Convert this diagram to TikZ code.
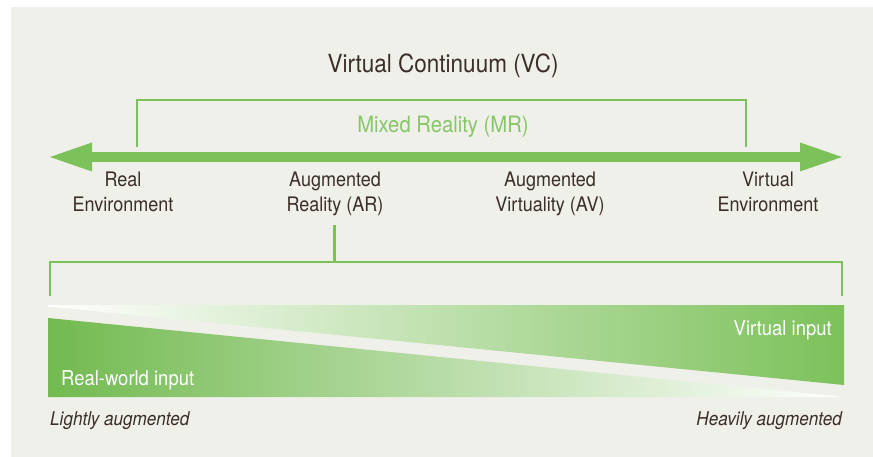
\documentclass[tikz,border=0pt]{standalone}
\usepackage{fontspec}
\setmainfont[FakeStretch=0.9]{TeX Gyre Heros}
\usetikzlibrary{arrows.meta}
\definecolor{bgc}{HTML}{F0F0EB}
\definecolor{grn}{HTML}{7CC15A}
\definecolor{grnd}{HTML}{72BA50}
\definecolor{mrtext}{HTML}{86C666}
\definecolor{txt}{HTML}{3A2E26}
\tikzset{
  lbl/.style={inner sep=0pt, anchor=base, text=txt, font=\fontsize{20}{25}\selectfont, align=center},
  brk/.style={draw=grn, line width=2.5pt},
  inlbl/.style={inner sep=0pt, anchor=base, text=white, font=\fontsize{20.5}{24}\selectfont},
  ital/.style={inner sep=0pt, anchor=base, text=txt, font=\fontsize{19}{23}\selectfont\itshape},
}
\begin{document}
\begin{tikzpicture}[x=1pt,y=-1pt]
\useasboundingbox (0,0) rectangle (873,457);
\fill[bgc] (11,7) rectangle (873,457);
% title
\node[inner sep=0pt, anchor=base, text=txt, font=\fontsize{25}{30}\selectfont] (vc) at (443,73) {Virtual Continuum (VC)};
% MR bracket
\coordinate (mrl) at (137,147);
\coordinate (mrr) at (746,147);
\draw[brk] (mrl) -- (mrl |- 0,100) -- (mrr |- 0,100) -- (mrr);
\node[inner sep=0pt, anchor=base, text=mrtext, font=\fontsize{22.5}{27}\selectfont] (mr) at (443,133) {Mixed Reality (MR)};
% main arrow
\coordinate (al) at (50,157);
\coordinate (ar) at (842,157);
\draw[grn, line width=10pt,
  {Triangle[length=42pt,width=29pt,line width=0pt]}-{Triangle[length=42pt,width=29pt,line width=0pt]}] (al) -- (ar);
% labels
\node[lbl] (re) at (123,211.7) {Real\\Environment};
\node[lbl] (arl) at (335,211.7) {Augmented\\Reality (AR)};
\node[lbl] (av) at (550,211.7) {Augmented\\Virtuality (AV)};
\node[lbl] (ve) at (768,211.7) {Virtual\\Environment};
% AR bracket
\coordinate (art) at (334.5,225);
\coordinate (bl) at (50,296);
\coordinate (br) at (842,296);
\draw[brk] (art) -- (art |- 0,262);
\draw[brk] (bl) -- (bl |- 0,262) -- (br |- 0,262) -- (br);
% gradient wedges
\shade[left color=white, right color=grn] (48,305) -- (844,305) -- (844,385) -- (48,306.5) -- cycle;
\shade[left color=grnd, right color=white] (48,318) -- (48,397) -- (844,397) -- cycle;
\node[inlbl, anchor=base east] (vi) at (832,335) {Virtual input};
\node[inlbl, anchor=base west] (rw) at (61,385) {Real-world input};
\node[ital, anchor=base west] (la) at (50,425) {Lightly augmented};
\node[ital, anchor=base east] (ha) at (842,425) {Heavily augmented};
\end{tikzpicture}
\end{document}
